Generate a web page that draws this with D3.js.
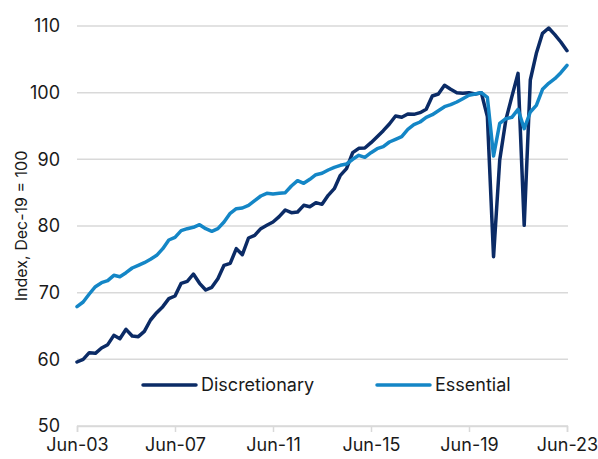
<!DOCTYPE html>
<html>
<head>
<meta charset="utf-8">
<script src="https://cdn.jsdelivr.net/npm/d3@7"></script>
<style>
  body { margin: 0; background: #fff; }
  svg { font-family: "Inter", "Roboto", sans-serif; }
</style>
</head>
<body>
<svg id="chart"></svg>
<script>
// quarterly index, Jun-03 .. Jun-23 (Dec-19 = 100)
const startDate = new Date(2003, 5, 1);
const discretionary = [
  59.6, 60.0, 61.0, 60.9, 61.7, 62.2, 63.6, 63.1, 64.5, 63.5,
  63.4, 64.2, 65.9, 67.0, 67.9, 69.1, 69.5, 71.4, 71.7, 72.8,
  71.4, 70.4, 70.8, 72.1, 74.1, 74.4, 76.6, 75.7, 78.2, 78.6,
  79.6, 80.1, 80.6, 81.4, 82.4, 82.0, 82.1, 83.1, 82.9, 83.5,
  83.25, 84.6, 85.6, 87.6, 88.6, 91.0, 91.65, 91.7, 92.5, 93.4,
  94.3, 95.3, 96.5, 96.3, 96.8, 96.75, 97.0, 97.5, 99.5, 99.8,
  101.1, 100.5, 100.0, 99.9, 100.0, 99.8, 100.0, 96.4, 75.4, 89.9,
  95.9, 99.4, 102.9, 80.1, 101.9, 105.9, 108.9, 109.7, 108.7, 107.6,
  106.3
];
const essential = [
  67.9, 68.6, 69.8, 70.9, 71.5, 71.8, 72.6, 72.4, 73.0, 73.7,
  74.1, 74.5, 75.0, 75.6, 76.6, 77.9, 78.3, 79.3, 79.6, 79.8,
  80.2, 79.6, 79.2, 79.6, 80.6, 81.9, 82.6, 82.7, 83.1, 83.8,
  84.5, 84.9, 84.8, 84.9, 85.0, 86.0, 86.8, 86.4, 87.0, 87.7,
  87.9, 88.4, 88.8, 89.1, 89.3, 90.0, 90.6, 90.3, 91.0, 91.6,
  91.9, 92.6, 93.0, 93.4, 94.5, 95.2, 95.6, 96.3, 96.7, 97.3,
  97.9, 98.2, 98.6, 99.1, 99.6, 99.8, 100.0, 99.3, 90.5, 95.4,
  96.1, 96.3, 97.5, 94.6, 97.1, 98.1, 100.5, 101.4, 102.1, 103.0,
  104.1
];
const yTicks = [50, 60, 70, 80, 90, 100, 110];
const xTickYears = [2003, 2007, 2011, 2015, 2019, 2023];
const seriesNames = ["Discretionary", "Essential"];
const seriesColors = ["#0b2b66", "#1486c6"];

const width = 598, height = 459;
const margin = { top: 26, right: 31, bottom: 33, left: 77 };
const innerW = width - margin.left - margin.right;
const innerH = height - margin.top - margin.bottom;
const fontSize = 18;

const dates = discretionary.map((d, i) => d3.timeMonth.offset(startDate, i * 3));

const svg = d3.select("#chart").attr("width", width).attr("height", height);
const g = svg.append("g").attr("transform", `translate(${margin.left},${margin.top})`);

const x = d3.scaleTime()
  .domain([dates[0], dates[dates.length - 1]])
  .range([0, innerW]);
const y = d3.scaleLinear().domain([50, 110]).range([innerH, 0]);

// gridlines
g.selectAll(".grid")
  .data(yTicks)
  .enter()
  .append("line")
  .attr("class", "grid")
  .attr("x1", 0)
  .attr("x2", innerW + 1)
  .attr("y1", d => y(d))
  .attr("y2", d => y(d))
  .attr("stroke", "#d9d9d9")
  .attr("stroke-width", 1.5);

// y axis labels
const yAxis = g.append("g")
  .call(d3.axisLeft(y).tickValues(yTicks).tickSize(0).tickPadding(17));
yAxis.select(".domain").remove();
yAxis.selectAll("text")
  .attr("font-size", fontSize)
  .attr("fill", "#1a1a1a")
  .style("font-family", "Inter, Roboto, sans-serif");

// x axis
const xAxis = g.append("g")
  .attr("transform", `translate(0,${innerH})`)
  .call(d3.axisBottom(x)
    .tickValues(xTickYears.map(yr => new Date(yr, 5, 1)))
    .tickFormat(d3.timeFormat("%b-%y"))
    .tickSize(6)
    .tickPadding(6));
xAxis.select(".domain").attr("stroke", "#d9d9d9").attr("stroke-width", 1.5);
xAxis.selectAll(".tick line").attr("stroke", "#d9d9d9").attr("stroke-width", 1.5);
xAxis.selectAll("text")
  .attr("font-size", fontSize)
  .attr("fill", "#1a1a1a")
  .style("font-family", "Inter, Roboto, sans-serif");

// y axis title
svg.append("text")
  .attr("transform", `translate(27,${margin.top + innerH / 2}) rotate(-90)`)
  .attr("text-anchor", "middle")
  .attr("font-size", 16)
  .attr("fill", "#1a1a1a")
  .text("Index, Dec-19 = 100");

// lines
const line = d3.line()
  .x((d, i) => x(dates[i]))
  .y(d => y(d));

[discretionary, essential].forEach((s, k) => {
  g.append("path")
    .datum(s)
    .attr("fill", "none")
    .attr("stroke", seriesColors[k])
    .attr("stroke-width", 3.5)
    .attr("stroke-linejoin", "round")
    .attr("stroke-linecap", "round")
    .attr("d", line);
});

// legend
const legendX = [143, 377];
const legend = svg.append("g").attr("transform", "translate(0,385)");
seriesNames.forEach((name, k) => {
  legend.append("line")
    .attr("x1", legendX[k])
    .attr("x2", legendX[k] + 53)
    .attr("stroke", seriesColors[k])
    .attr("stroke-width", 3.5)
    .attr("stroke-linecap", "round");
  legend.append("text")
    .attr("x", legendX[k] + 58)
    .attr("dy", "0.35em")
    .attr("font-size", fontSize)
    .attr("fill", "#1a1a1a")
    .text(name);
});
</script>
</body>
</html>
